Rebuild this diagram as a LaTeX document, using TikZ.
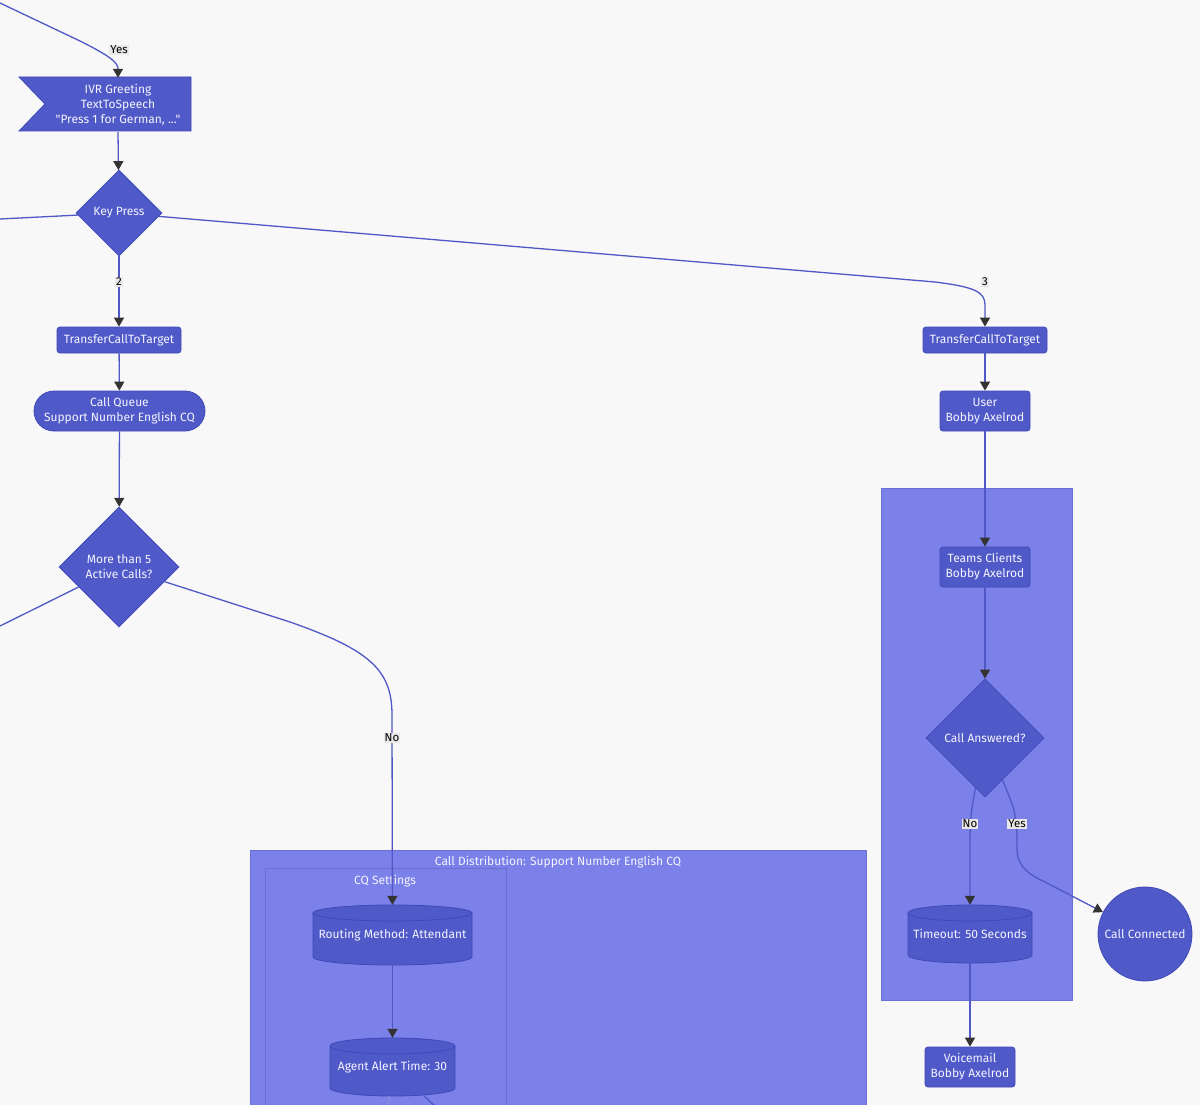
\documentclass[tikz,border=0pt]{standalone}
\usepackage{fontspec}
\setmainfont{Fira Sans}
\usetikzlibrary{shapes.geometric,arrows.meta,calc}
\definecolor{bg}{HTML}{F8F8F8}
\definecolor{nfill}{HTML}{5059C8}
\definecolor{nline}{HTML}{4048B8}
\definecolor{cfill}{HTML}{7B81E8}
\definecolor{cline}{HTML}{6A70D2}
\definecolor{ecol}{HTML}{5058C6}
\definecolor{tipc}{HTML}{333333}
\definecolor{lblbg}{HTML}{E8E8E8}
\definecolor{ntext}{HTML}{F4F4FF}
\font\plainq="Fira Sans" at 12pt
\begin{document}
\begin{tikzpicture}[x=1pt,y=-1pt,
  txt/.style={text=ntext,font=\fontsize{12}{15}\selectfont,align=center,inner sep=0pt},
  base/.style={txt,fill=nfill,draw=nline,line width=0.8pt},
  boxn/.style={base,rectangle,rounded corners=3pt},
  stad/.style={base,rectangle,rounded corners=20pt},
  dia/.style={base,diamond,aspect=1},
  circ/.style={base,circle},
  shapefill/.style={fill=nfill,draw=nline,line width=0.8pt},
  cluster/.style={fill=cfill,draw=cline,line width=0.8pt},
  ctitle/.style={txt},
  edge/.style={draw=ecol,line width=1.3pt,-{Triangle[length=9pt,width=10pt,color=tipc]}},
  lbl/.style={fill=lblbg,text=black,font=\fontsize{11.5}{13}\selectfont,inner sep=1pt}
]
\useasboundingbox (0,0) rectangle (1200,1105);
\fill[bg] (0,0) rectangle (1200,1105);

% clusters
\path[cluster] (250,850) rectangle (866,1115);
\path[cluster] (265,868) rectangle (506,1115);
\path[cluster] (881,488) rectangle (1072,1000);
\node[ctitle] (t1) at (558,862) {Call Distribution: Support Number English CQ};
\node[ctitle] (t2) at (385,881) {CQ Settings};

% IVR flag shape
\path[shapefill] (19,77) -- (191,77) -- (191,131) -- (19,131) -- (45,104) -- cycle;
\node[txt,minimum height=54pt] (ivr) at (118,105) {IVR Greeting\\TextToSpeech\\{\plainq "Press 1 for German, ..."}};

% cylinders
\path[shapefill] (313,913) -- (313,957) arc[start angle=180,end angle=360,x radius=79.5pt,y radius=8pt]
  -- (472,913) arc[start angle=0,end angle=180,x radius=79.5pt,y radius=8pt] -- cycle;
\draw[nline,line width=0.8pt] (313,913) arc[start angle=180,end angle=360,x radius=79.5pt,y radius=8pt];
\node[txt,minimum width=159pt,minimum height=60pt] (rm) at (392.5,935) {Routing Method: Attendant};

\path[shapefill] (330,1046) -- (330,1088) arc[start angle=180,end angle=360,x radius=62.5pt,y radius=8pt]
  -- (455,1046) arc[start angle=0,end angle=180,x radius=62.5pt,y radius=8pt] -- cycle;
\draw[nline,line width=0.8pt] (330,1046) arc[start angle=180,end angle=360,x radius=62.5pt,y radius=8pt];
\node[txt,minimum width=125pt,minimum height=58pt] (aa) at (392.5,1067) {Agent Alert Time: 30};

\path[shapefill] (908,913) -- (908,955) arc[start angle=180,end angle=360,x radius=62pt,y radius=8pt]
  -- (1032,913) arc[start angle=0,end angle=180,x radius=62pt,y radius=8pt] -- cycle;
\draw[nline,line width=0.8pt] (908,913) arc[start angle=180,end angle=360,x radius=62pt,y radius=8pt];
\node[txt,minimum width=124pt,minimum height=58pt] (to) at (970,934) {Timeout: 50 Seconds};

% nodes
\node[dia,minimum width=86pt,minimum height=86pt] (kp) at (119,213) {Key Press};
\node[boxn,minimum width=124pt,minimum height=26pt] (tr1) at (119,340) {TransferCallToTarget};
\node[boxn,minimum width=124pt,minimum height=26pt] (tr2) at (985,340) {TransferCallToTarget};
\node[stad,minimum width=171pt,minimum height=40pt] (cq) at (119.5,411) {Call Queue\\Support Number English CQ};
\node[boxn,minimum width=90pt,minimum height=40pt] (us) at (985,411) {User\\Bobby Axelrod};
\node[dia,minimum width=120pt,minimum height=120pt] (m5) at (119,567) {More than 5\\Active Calls?};
\node[boxn,minimum width=90pt,minimum height=40pt] (tc) at (985,567) {Teams Clients\\Bobby Axelrod};
\node[dia,minimum width=118pt,minimum height=118pt] (ca) at (985,738) {Call Answered?};
\node[circ,minimum size=94pt] (cc) at (1145,934) {Call Connected};
\node[boxn,minimum width=90pt,minimum height=40pt] (vm) at (970,1067) {Voicemail\\Bobby Axelrod};

% free ends
\coordinate (tin) at (0,3);
\coordinate (kpl) at (0,219);
\coordinate (m5l) at (0,626);
\coordinate (off1) at (386,1125);
\coordinate (off2) at (447,1117);

% edges
\draw[edge] (tin) -- (80,41) .. controls (112,57) and (118,63) .. (ivr.north);
\node[lbl] (lyes) at (119,50) {Yes};
\draw[edge] (ivr.south) -- (kp);
\draw[draw=ecol,line width=1.3pt] (kp) -- (kpl);
\draw[edge] (kp) -- (tr1);
\node[lbl] (l2) at (119,282) {2};
\draw[edge] (kp) -- (935,282) .. controls (975,287) and (985,292) .. (985,305) -- (tr2);
\node[lbl] (l3) at (985,282) {3};
\draw[edge] (tr1) -- (cq);
\draw[edge] (tr2) -- (us);
\draw[edge] (cq) -- (m5);
\draw[draw=ecol,line width=1.3pt] (m5) -- (m5l);
\draw[edge] (m5) -- (290,622) .. controls (370,650) and (392,670) .. (392,715) -- (rm);
\node[lbl] (lno1) at (392,738) {No};
\draw[edge] (rm) -- (aa);
\draw[draw=ecol!60,line width=1.3pt,dotted] (aa) -- (off1);
\draw[draw=ecol,line width=1.3pt] (aa) -- (off2);
\draw[edge] (us) -- (tc);
\draw[edge] (tc) -- (ca);
\draw[edge] (ca) .. controls (971,812) .. (970,835) -- (to);
\node[lbl] (lno2) at (970,824) {No};
\draw[edge] (ca) .. controls (1015,810) .. (1017,835) -- (1017,850) .. controls (1018,868) and (1030,875) .. (1045,882) -- (cc);
\node[lbl] (lyes2) at (1017,824) {Yes};
\draw[edge] (to) -- (vm);
\end{tikzpicture}
\end{document}
